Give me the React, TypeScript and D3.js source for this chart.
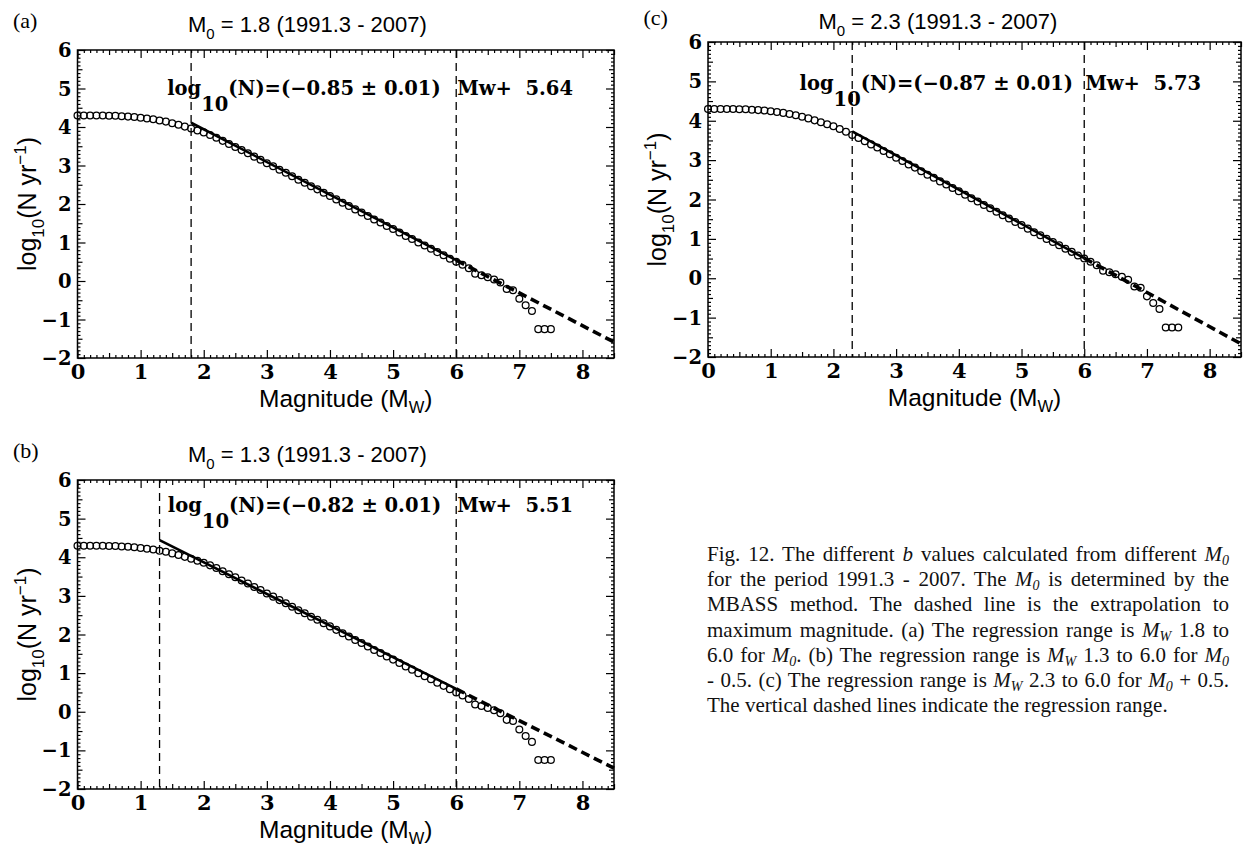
import React, { useRef, useEffect } from 'react';
import * as d3 from 'd3';

// cumulative annual rate, same catalogue in all three panels
const magnitudes = [
  0.0, 0.1, 0.2, 0.3, 0.4, 0.5, 0.6, 0.7, 0.8, 0.9,
  1.0, 1.1, 1.2, 1.3, 1.4, 1.5, 1.6, 1.7, 1.8, 1.9,
  2.0, 2.1, 2.2, 2.3, 2.4, 2.5, 2.6, 2.7, 2.8, 2.9,
  3.0, 3.1, 3.2, 3.3, 3.4, 3.5, 3.6, 3.7, 3.8, 3.9,
  4.0, 4.1, 4.2, 4.3, 4.4, 4.5, 4.6, 4.7, 4.8, 4.9,
  5.0, 5.1, 5.2, 5.3, 5.4, 5.5, 5.6, 5.7, 5.8, 5.9,
  6.0, 6.1, 6.2, 6.3, 6.4, 6.5, 6.6, 6.7, 6.8, 6.9,
  7.0, 7.1, 7.2, 7.3, 7.4, 7.5,
];
const logRate = [
  4.30, 4.30, 4.30, 4.30, 4.30, 4.29, 4.29, 4.28, 4.27, 4.26,
  4.24, 4.22, 4.20, 4.17, 4.14, 4.10, 4.06, 4.01, 3.96, 3.91,
  3.86, 3.79, 3.72, 3.64, 3.56, 3.48, 3.40, 3.32, 3.23, 3.15,
  3.06, 2.98, 2.89, 2.81, 2.72, 2.63, 2.55, 2.46, 2.38, 2.29,
  2.21, 2.12, 2.03, 1.95, 1.86, 1.78, 1.69, 1.60, 1.52, 1.43,
  1.35, 1.26, 1.17, 1.09, 1.00, 0.92, 0.84, 0.75, 0.67, 0.58,
  0.50, 0.42, 0.33, 0.19, 0.15, 0.10, 0.04, -0.04, -0.21, -0.24,
  -0.46, -0.63, -0.78, -1.25, -1.25, -1.25,
];

const panelTags = ['(a)', '(b)', '(c)'];
const cutoffs = [1.8, 1.3, 2.3];
const slopes = [-0.85, -0.82, -0.87];
const slopeErrors = [0.01, 0.01, 0.01];
const intercepts = [5.64, 5.51, 5.73];
const regressionMax = 6.0;
const extrapolationMax = 8.5;
const xTicks = [0, 1, 2, 3, 4, 5, 6, 7, 8];
const yTicks = [-2, -1, 0, 1, 2, 3, 4, 5, 6];

// pixel frames of the panels; eqX/eqY are data coords of the equation
const frames = [
  { left: 77.5, right: 614, top: 50, bottom: 358, eqX: 1.42, eqY: 4.83, titleY: 32 },
  { left: 77.5, right: 614, top: 480, bottom: 789, eqX: 1.43, eqY: 5.17, titleY: 462 },
  { left: 708, right: 1241, top: 42, bottom: 357, eqX: 1.46, eqY: 4.78, titleY: 29 },
];

type Seg = { t: string; i?: boolean; s?: boolean };
const captionLines: Seg[][] = [
  [{ t: 'Fig. 12. The different ' }, { t: 'b', i: true }, { t: ' values calculated from different ' }, { t: 'M', i: true }, { t: '0', i: true, s: true }],
  [{ t: 'for the period 1991.3 - 2007. The ' }, { t: 'M', i: true }, { t: '0', i: true, s: true }, { t: ' is determined by the' }],
  [{ t: 'MBASS method. The dashed line is the extrapolation to' }],
  [{ t: 'maximum magnitude. (a) The regression range is ' }, { t: 'M', i: true }, { t: 'W', i: true, s: true }, { t: ' 1.8 to' }],
  [{ t: '6.0 for ' }, { t: 'M', i: true }, { t: '0', i: true, s: true }, { t: '. (b) The regression range is ' }, { t: 'M', i: true }, { t: 'W', i: true, s: true }, { t: ' 1.3 to 6.0 for ' }, { t: 'M', i: true }, { t: '0', i: true, s: true }],
  [{ t: '- 0.5. (c) The regression range is ' }, { t: 'M', i: true }, { t: 'W', i: true, s: true }, { t: ' 2.3 to 6.0 for ' }, { t: 'M', i: true }, { t: '0', i: true, s: true }, { t: ' + 0.5.' }],
  [{ t: 'The vertical dashed lines indicate the regression range.' }],
];

const SANS = '"Liberation Sans", Arial, Helvetica, sans-serif';
const BOLDSERIF = '"DejaVu Serif", serif';
const SERIF = '"Liberation Serif", "Times New Roman", serif';

const minus = (v: number, digits: number) => (v < 0 ? '\u2212' : '') + Math.abs(v).toFixed(digits);

const tickLen = (v: number) => {
  if (Math.abs(v - Math.round(v)) < 1e-6) return 8;
  if (Math.abs(v * 2 - Math.round(v * 2)) < 1e-6) return 5;
  return 3;
};

function drawPanel(svg: any, f: any, i: number) {
  const x = d3.scaleLinear().domain([0, 8.5]).range([f.left, f.right]);
  const y = d3.scaleLinear().domain([-2, 6]).range([f.bottom, f.top]);
  const g = svg.append('g');

  // minor/major ticks on all four sides, pointing inwards
  const xs = x.ticks(85);
  const ys = y.ticks(80);
  const sides = [
    { axis: d3.axisBottom(x).tickValues(xs), at: `translate(0,${f.bottom})`, dir: -1, horiz: true },
    { axis: d3.axisTop(x).tickValues(xs), at: `translate(0,${f.top})`, dir: 1, horiz: true },
    { axis: d3.axisLeft(y).tickValues(ys), at: `translate(${f.left},0)`, dir: 1, horiz: false },
    { axis: d3.axisRight(y).tickValues(ys), at: `translate(${f.right},0)`, dir: -1, horiz: false },
  ];
  sides.forEach((s) => {
    const a = g.append('g').attr('transform', s.at).call(s.axis.tickSize(0).tickFormat(() => ''));
    a.select('.domain').remove();
    a.selectAll('.tick line')
      .attr('stroke', '#000')
      .attr('stroke-width', 1.2)
      .attr(s.horiz ? 'y2' : 'x2', (d: number) => s.dir * tickLen(d))
      .attr(s.horiz ? 'x2' : 'y2', 0);
  });

  // frame
  g.append('rect')
    .attr('x', f.left).attr('y', f.top)
    .attr('width', f.right - f.left).attr('height', f.bottom - f.top)
    .attr('fill', 'none').attr('stroke', '#000').attr('stroke-width', 1.5);

  // tick labels
  const xl = g.append('g').attr('transform', `translate(0,${f.bottom})`)
    .call(d3.axisBottom(x).tickValues(xTicks).tickSize(0).tickFormat((d: any) => minus(d, 0)));
  xl.select('.domain').remove();
  xl.attr('font-family', BOLDSERIF).attr('font-size', 21).attr('font-weight', 'bold');
  xl.selectAll('text').attr('y', 21).attr('dy', 0).attr('fill', '#000');

  const yl = g.append('g').attr('transform', `translate(${f.left},0)`)
    .call(d3.axisLeft(y).tickValues(yTicks).tickSize(0).tickFormat((d: any) => minus(d, 0)));
  yl.select('.domain').remove();
  yl.attr('font-family', BOLDSERIF).attr('font-size', 19.5).attr('font-weight', 'bold');
  yl.selectAll('text').attr('x', -6).attr('dy', 6.5).attr('fill', '#000');

  // regression range markers
  [cutoffs[i], regressionMax].forEach((m) => {
    g.append('line')
      .attr('x1', x(m)).attr('x2', x(m))
      .attr('y1', f.top).attr('y2', f.bottom)
      .attr('stroke', '#000').attr('stroke-width', 1.3)
      .attr('stroke-dasharray', '8,5');
  });

  // data
  g.append('g').selectAll('circle')
    .data(magnitudes.map((m, k) => [m, logRate[k]]))
    .join('circle')
    .attr('cx', (d: number[]) => x(d[0]))
    .attr('cy', (d: number[]) => y(d[1]))
    .attr('r', 3.4)
    .attr('fill', 'none')
    .attr('stroke', '#000')
    .attr('stroke-width', 1.25);

  // fit and extrapolation
  const fit = (m: number) => intercepts[i] + slopes[i] * m;
  const line = d3.line<number>().x((m) => x(m)).y((m) => y(fit(m)));
  g.append('path')
    .attr('d', line([cutoffs[i], regressionMax]))
    .attr('stroke', '#000').attr('stroke-width', 2.6).attr('fill', 'none');
  g.append('path')
    .attr('d', line([regressionMax, extrapolationMax]))
    .attr('stroke', '#000').attr('stroke-width', 3.6).attr('fill', 'none')
    .attr('stroke-dasharray', '9,5');

  // equation
  const ex = x(f.eqX);
  const ey = y(f.eqY);
  const eq = g.append('text')
    .attr('x', ex).attr('y', ey)
    .attr('font-family', BOLDSERIF).attr('font-weight', 'bold').attr('font-size', 19.5)
    .attr('fill', '#000');
  eq.append('tspan').text('log');
  eq.append('tspan').attr('dy', 16).text('10');
  eq.append('tspan').attr('dy', -16).text(`(N)=(${minus(slopes[i], 2)} \u00b1 ${slopeErrors[i].toFixed(2)})`);
  g.append('text')
    .attr('x', x(regressionMax) + 1).attr('y', ey)
    .attr('font-family', BOLDSERIF).attr('font-weight', 'bold').attr('font-size', 19.5)
    .attr('xml:space', 'preserve')
    .text(`Mw+  ${intercepts[i].toFixed(2)}`);

  // title
  const title = g.append('text')
    .attr('x', f.left + 110.5).attr('y', f.titleY)
    .attr('font-family', SANS).attr('font-size', 22);
  title.append('tspan').text('M');
  title.append('tspan').attr('dy', 7).attr('font-size', 15).text('0');
  title.append('tspan').attr('dy', -7).text(` = ${cutoffs[i].toFixed(1)} (1991.3 - 2007)`);

  // panel tag
  g.append('text')
    .attr('x', f.left - 64.5).attr('y', f.titleY - 4)
    .attr('font-family', SERIF).attr('font-size', 22)
    .text(panelTags[i]);

  // axis titles
  const xt = g.append('text')
    .attr('x', (f.left + f.right) / 2).attr('y', f.bottom + 49)
    .attr('text-anchor', 'middle')
    .attr('font-family', SANS).attr('font-size', 24.5);
  xt.append('tspan').text('Magnitude (M');
  xt.append('tspan').attr('dy', 6).attr('font-size', 16.5).text('W');
  xt.append('tspan').attr('dy', -6).text(')');

  const cy = (f.top + f.bottom) / 2;
  const yt = g.append('text')
    .attr('transform', `translate(${f.left - 42},${cy}) rotate(-90)`)
    .attr('text-anchor', 'middle')
    .attr('font-family', SANS).attr('font-size', 25);
  yt.append('tspan').text('log');
  yt.append('tspan').attr('dy', 8).attr('font-size', 17).text('10');
  yt.append('tspan').attr('dy', -8).text('(N yr');
  yt.append('tspan').attr('dy', -10).attr('font-size', 17).text('\u22121');
  yt.append('tspan').attr('dy', 10).text(')');
}

function drawCaption(svg: any) {
  const left = 707;
  const right = 1229;
  const g = svg.append('g').attr('font-family', SERIF).attr('font-size', 21).attr('fill', '#111');
  captionLines.forEach((segs, k) => {
    const t = g.append('text').attr('x', left).attr('y', 561 + k * 25.2).attr('xml:space', 'preserve');
    segs.forEach((s) => {
      const sp = t.append('tspan').text(s.t);
      if (s.i) sp.attr('font-style', 'italic');
      if (s.s) sp.attr('font-size', 14).attr('dy', 4);
    });
    // put the baseline back after a subscript
    t.selectAll('tspan').each(function (this: any, _d: any, j: number) {
      if (j > 0 && segs[j - 1].s && !segs[j].s) d3.select(this).attr('dy', -4);
    });
    if (k < captionLines.length - 1) {
      const node = t.node() as SVGTextElement;
      const w = node.getComputedTextLength();
      const spaces = segs.map((s) => s.t).join('').split(' ').length - 1;
      if (spaces > 0 && w < right - left) t.attr('word-spacing', (right - left - w) / spaces);
    }
  });
}

export default function App() {
  const svgRef = useRef<SVGSVGElement>(null);

  useEffect(() => {
    const svg = d3.select(svgRef.current);
    svg.selectAll('*').remove();
    frames.forEach((f, i) => drawPanel(svg, f, i));
    drawCaption(svg);
  }, []);

  return (
    <div>
      <style>{`body { margin: 0; }`}</style>
      <svg ref={svgRef} width={1247} height={850} style={{ display: 'block', background: '#fff' }} />
    </div>
  );
}
